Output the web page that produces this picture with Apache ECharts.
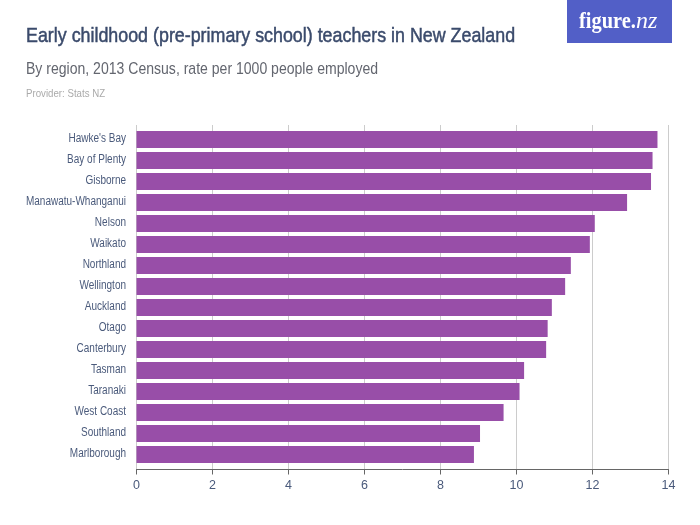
<!DOCTYPE html>
<html lang="en">
<head>
    <meta charset="UTF-8">
    <title>Early childhood teachers</title>
    <script src="https://cdn.jsdelivr.net/npm/echarts@6/dist/echarts.min.js"></script>
    <style>
        html, body { margin: 0; padding: 0; background: #fff; }
    </style>
</head>
<body>
<div id="main" style="width: 700px;height:525px;"></div>
<script type="text/javascript">
    var regions = ["Hawke's Bay", "Bay of Plenty", "Gisborne", "Manawatu-Whanganui", "Nelson", "Waikato", "Northland", "Wellington", "Auckland", "Otago", "Canterbury", "Tasman", "Taranaki", "West Coast", "Southland", "Marlborough"];
    var rates = [13.71, 13.58, 13.54, 12.91, 12.06, 11.93, 11.43, 11.28, 10.93, 10.82, 10.78, 10.2, 10.08, 9.66, 9.04, 8.88];
    var xTicks = [0, 2, 4, 6, 8, 10, 12, 14];

    var fontName = '"Liberation Sans", sans-serif';
    var myChart = echarts.init(document.getElementById('main'), null, {renderer: 'canvas'});

    // no condensed font installed, so the text gets squeezed with scaleX
    function headText(str, x, y, scale, size, color, thicken) {
        return {type: 'text', x: x, y: y, scaleX: scale, z: 11,
            style: {text: str, fill: color, font: size + 'px ' + fontName,
                stroke: thicken ? color : null, lineWidth: thicken || 0}};
    }

    function regionLabel(params, api) {
        var pt = api.coord([0, api.value(1)]);
        return {type: 'text', x: pt[0] - 10.5, y: pt[1] - 0.5, scaleX: 0.8,
            style: {text: regions[params.dataIndex], textAlign: 'right', textVerticalAlign: 'middle',
                fill: '#4a5a7b', font: '12.5px ' + fontName}};
    }

    // the axis and gridlines sit in a slightly taller grid than the bars
    var option = {
        animation: false,
        graphic: [
            headText('Early childhood (pre-primary school) teachers in New Zealand', 26, 26, 0.85, 21, '#3a4a6b', 0.5),
            headText('By region, 2013 Census, rate per 1000 people employed', 26, 61, 0.826, 17, '#63666f'),
            headText('Provider: Stats NZ', 26, 88, 0.88, 11, '#aaaaaa'),
            {type: 'rect', x: 567, y: 0, z: 10, shape: {width: 105, height: 43}, style: {fill: '#525fc7'}},
            {type: 'text', x: 579, y: 10, scaleX: 0.85, z: 11, style: {text: 'figure.', fill: '#fff', font: 'bold 24px "Liberation Serif", serif'}},
            {type: 'text', x: 636, y: 10, z: 11, style: {text: 'nz', fill: '#fff', font: 'italic 24px "Liberation Serif", serif'}}
        ],
        grid: [
            {left: 136.5, width: 532, top: 125, height: 344.5},
            {left: 136.5, width: 532, top: 129, height: 336}
        ],
        xAxis: [
            {
                type: 'value', gridIndex: 0, min: xTicks[0], max: xTicks[xTicks.length - 1], interval: 2,
                axisLine: {show: true, lineStyle: {color: '#666666', width: 1}},
                axisTick: {show: true, length: 5, lineStyle: {color: '#666666'}},
                axisLabel: {fontFamily: fontName, fontSize: 12.5, color: '#4a5a7b', margin: 10},
                splitLine: {show: true, lineStyle: {color: '#cccccc', width: 1}}
            },
            {type: 'value', gridIndex: 1, min: 0, max: 14, show: false}
        ],
        yAxis: [
            {type: 'category', gridIndex: 0, show: false, data: regions, inverse: true},
            {type: 'category', gridIndex: 1, show: false, data: regions, inverse: true}
        ],
        series: [{
            type: 'bar',
            xAxisIndex: 1,
            yAxisIndex: 1,
            data: rates,
            barWidth: 17,
            itemStyle: {color: '#984ea8'}
        }, {
            type: 'custom',
            xAxisIndex: 1,
            yAxisIndex: 1,
            renderItem: regionLabel,
            encode: {x: 0, y: 1},
            data: regions.map(function (r, i) { return [0, i]; })
        }]
    };
    myChart.setOption(option);
</script>
</body>
</html>
